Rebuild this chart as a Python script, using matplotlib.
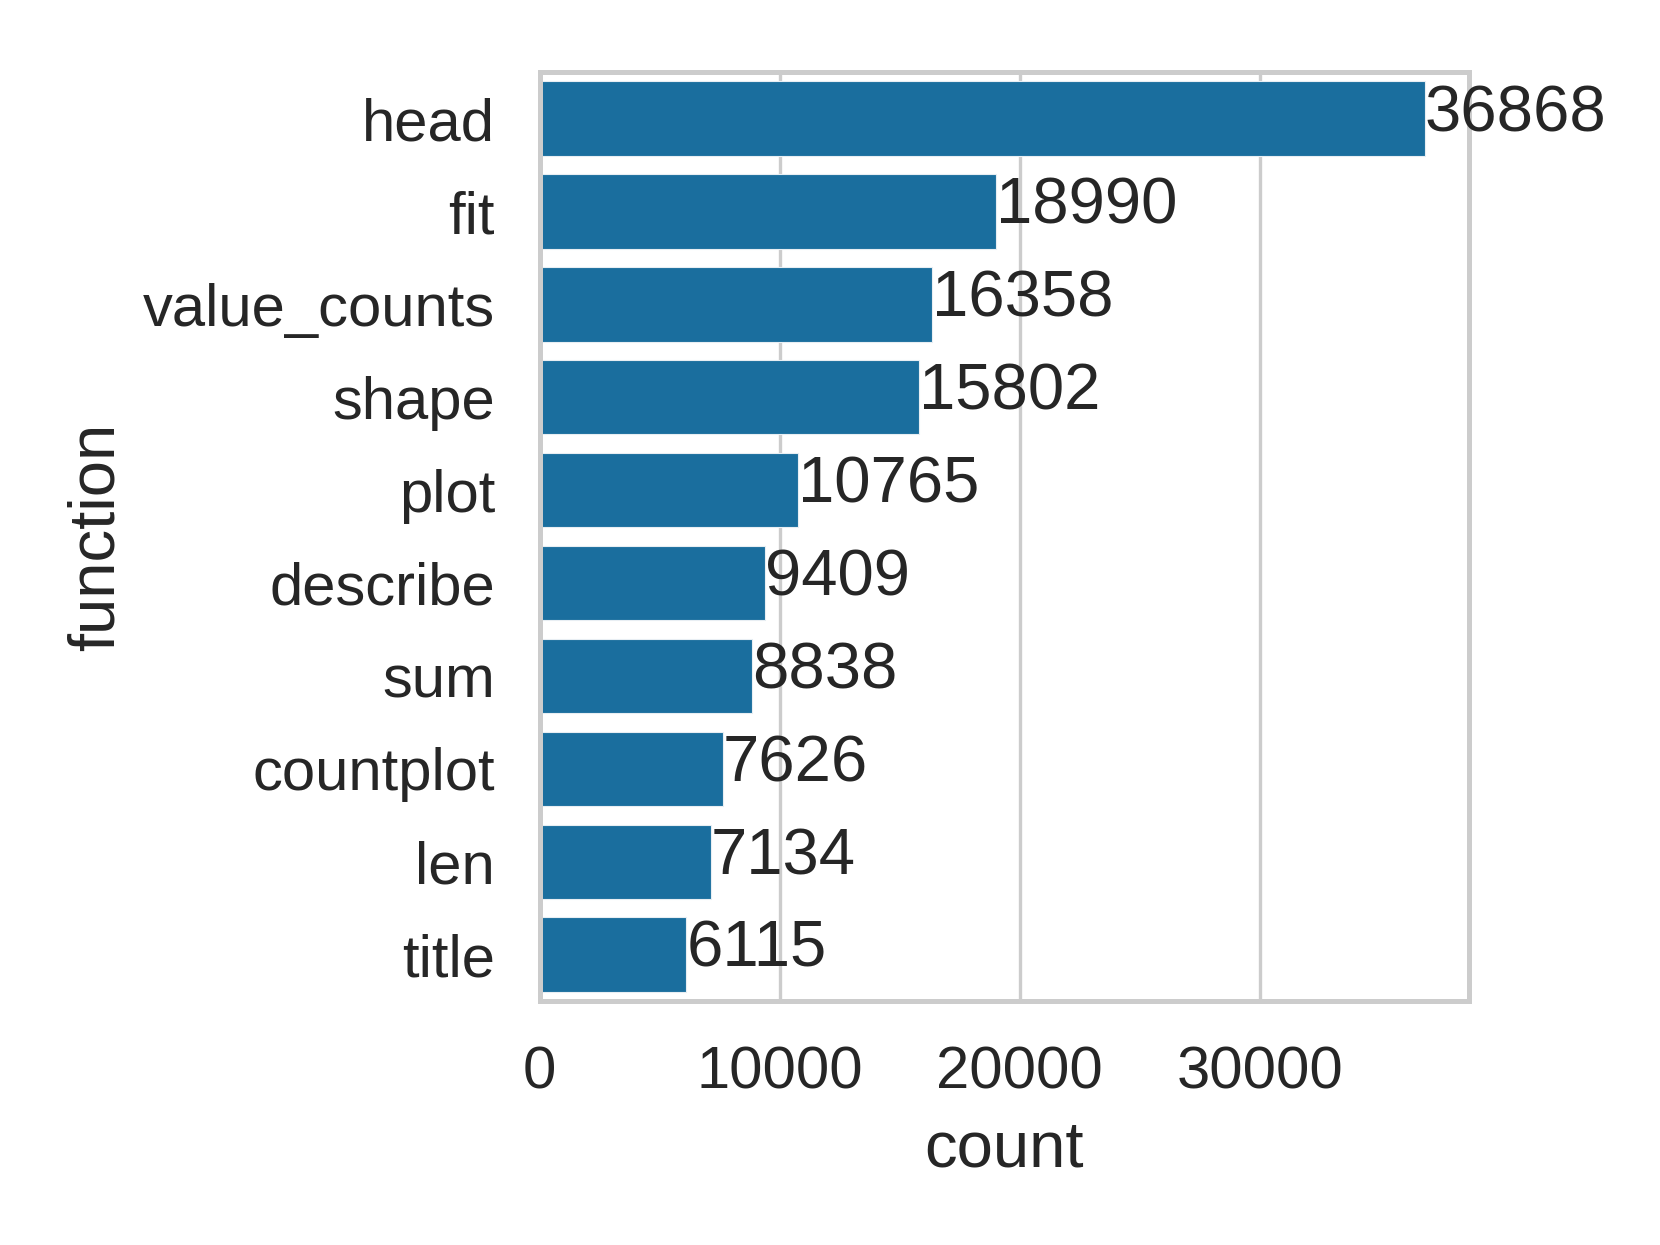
import matplotlib
matplotlib.use("Agg")
import matplotlib.pyplot as plt

functions = ["head", "fit", "value_counts", "shape", "plot", "describe",
             "sum", "countplot", "len", "title"]
counts = [36868, 18990, 16358, 15802, 10765, 9409, 8838, 7626, 7134, 6115]
xticks = [0, 10000, 20000, 30000]

plt.rcParams['font.family'] = ['Liberation Sans', 'DejaVu Sans']
text_color = "#262626"
fs = 21.5
fs_big = 23.5

fig = plt.figure(figsize=(8.3, 6.225), dpi=200)
ax = fig.add_axes([0.325, 0.196, 0.56, 0.746])

ypos = list(range(len(functions)))
ax.barh(ypos, counts, height=0.8, color="#1a6e9e", edgecolor="#e8eef3",
        linewidth=0.4, zorder=2)
for y, v in zip(ypos, counts):
    ax.text(v, y - 0.05, str(v), va="center", ha="left", fontsize=fs_big,
            color=text_color, zorder=3)

ax.set_ylim(len(functions) - 0.5, -0.5)
ax.set_xlim(0, max(counts) * 1.05)
ax.set_yticks(ypos)
ax.set_yticklabels(functions)
ax.set_xticks(xticks)
ax.set_xticklabels([str(t) for t in xticks])
ax.tick_params(axis="both", length=0, pad=16, labelsize=fs, labelcolor=text_color)
ax.xaxis.grid(True, color="#cccccc", linewidth=1.2, zorder=0)
ax.yaxis.grid(False)
ax.set_axisbelow(True)
for s in ax.spines.values():
    s.set_color("#cccccc")
    s.set_linewidth(1.8)
ax.set_xlabel("count", fontsize=fs_big, color=text_color, labelpad=7)
ax.set_ylabel("function", fontsize=fs_big, color=text_color, labelpad=6)

fig.savefig("out.png", dpi=200, facecolor="white")
